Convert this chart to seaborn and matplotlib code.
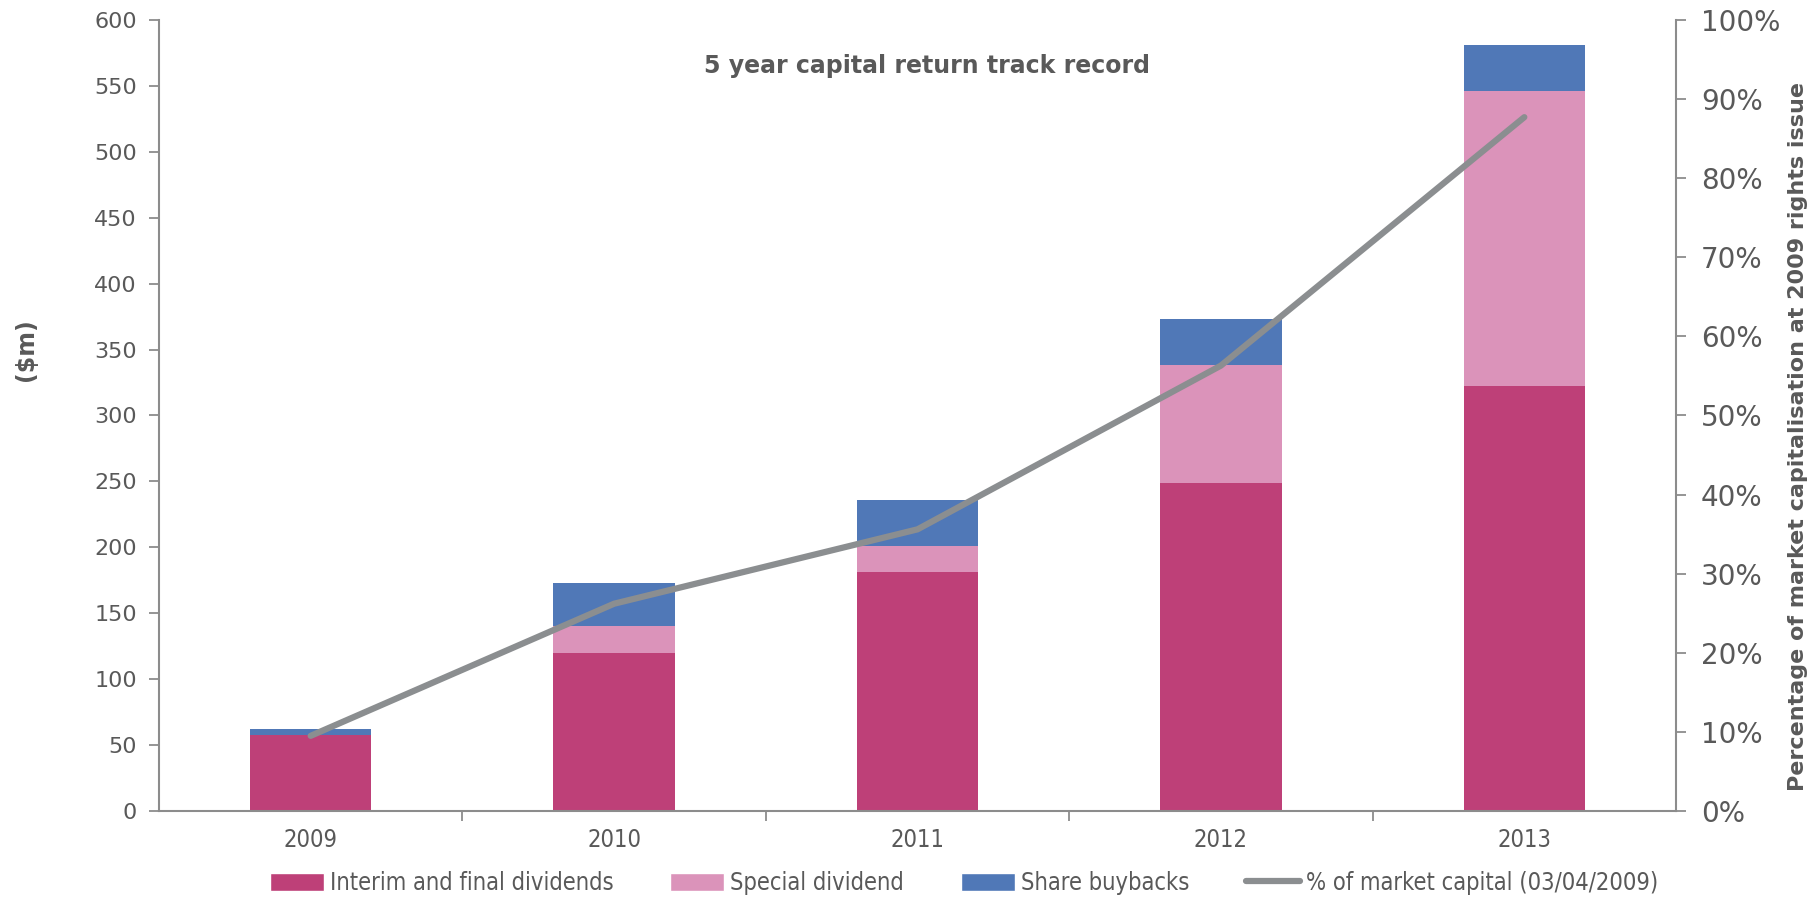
import numpy as np
import pandas as pd
import matplotlib
matplotlib.use("Agg")
import matplotlib.pyplot as plt
import seaborn as sns
from matplotlib.ticker import PercentFormatter, MultipleLocator, FixedLocator
from matplotlib.patches import Patch
from matplotlib.lines import Line2D

# data
years = ["2009", "2010", "2011", "2012", "2013"]
interim_final = [58, 120, 181, 249, 322]
special_div = [0, 20, 20, 89, 224]
buybacks = [4, 33, 35, 35, 35]
pct_market_cap = [9.5, 26.2, 35.6, 56.3, 87.7]

C_INTERIM = "#BE4078"
C_SPECIAL = "#DB93BA"
C_BUYBACK = "#5078B7"
C_LINE = "#8B8E90"
C_AXIS = "#8C8C8C"
C_TEXT = "#595959"

sns.set_theme(style="white")
plt.rcParams["font.family"] = ["DejaVu Sans"]

df = pd.DataFrame({"year": years, "interim": interim_final,
                   "special": special_div, "buyback": buybacks})
df["lvl2"] = df["interim"] + df["special"]
df["lvl3"] = df["lvl2"] + df["buyback"]

fig = plt.figure(figsize=(18.19, 8.99), dpi=100)
ax = fig.add_axes([0.0874, 0.0979, 0.834, 0.88])

# stacked bars drawn as cumulative totals, back to front
for col, c in [("lvl3", C_BUYBACK), ("lvl2", C_SPECIAL), ("interim", C_INTERIM)]:
    sns.barplot(data=df, x="year", y=col, color=c, width=0.4,
                saturation=1, linewidth=0, ax=ax)

ax.set_xlim(-0.5, len(years) - 0.5)
ax.set_ylim(0, 600)
ax.yaxis.set_major_locator(MultipleLocator(50))
ax.set_xlabel("")
ax.set_ylabel("($m)", fontsize=17, fontweight="bold", color=C_TEXT)
ax.yaxis.set_label_coords(-0.080, 0.583)

for side in ["top", "right"]:
    ax.spines[side].set_visible(False)
for side in ["left", "bottom"]:
    ax.spines[side].set_color(C_AXIS)
    ax.spines[side].set_linewidth(1.5)

ax.tick_params(axis="y", which="major", direction="out", length=7, width=1.3,
               color=C_AXIS, labelsize=16, labelcolor=C_TEXT, left=True, pad=9)
ax.tick_params(axis="x", which="major", length=0, labelsize=17,
               labelcolor=C_TEXT, pad=12)
ax.xaxis.set_minor_locator(FixedLocator(np.arange(0.5, len(years) - 1, 1.0)))
ax.tick_params(axis="x", which="minor", direction="out", length=7, width=1.3,
               color=C_AXIS, bottom=True)
for lab in ax.get_xticklabels():
    lab.set_fontstretch("condensed")

ax.text(0.506, 0.942, "5 year capital return track record", transform=ax.transAxes,
        ha="center", va="center", fontsize=17, fontweight="bold", color=C_TEXT)

# secondary axis with % of market cap
ax2 = ax.twinx()
sns.lineplot(x=np.arange(len(years)), y=pct_market_cap, color=C_LINE,
             linewidth=4.5, ax=ax2, solid_capstyle="round")
ax2.set_ylim(0, 100)
ax2.yaxis.set_major_locator(MultipleLocator(10))
ax2.yaxis.set_major_formatter(PercentFormatter(decimals=0))
ax2.set_ylabel("Percentage of market capitalisation at 2009 rights issue",
               fontsize=16, fontweight="bold", color=C_TEXT)
ax2.yaxis.set_label_coords(1.074, 0.473)
for side in ["top", "left", "bottom"]:
    ax2.spines[side].set_visible(False)
ax2.spines["right"].set_color(C_AXIS)
ax2.spines["right"].set_linewidth(1.5)
ax2.tick_params(axis="y", direction="out", length=7, width=1.3, color=C_AXIS,
                labelsize=20, labelcolor=C_TEXT, right=True, pad=11)
ax2.grid(False)
ax.grid(False)

handles = [Patch(facecolor=C_INTERIM), Patch(facecolor=C_SPECIAL),
           Patch(facecolor=C_BUYBACK),
           Line2D([0], [0], color=C_LINE, linewidth=4.5, solid_capstyle="round")]
labels = ["Interim and final dividends", "Special dividend", "Share buybacks",
          "% of market capital (03/04/2009)"]
leg = fig.legend(handles, labels, loc="center", bbox_to_anchor=(0.530, 0.018),
                 ncol=4, frameon=False, handlelength=2.3, handleheight=0.8,
                 handletextpad=0.25, columnspacing=2.4,
                 prop={"family": "DejaVu Sans", "stretch": "condensed", "size": 17})
for t in leg.get_texts():
    t.set_color(C_TEXT)

fig.savefig("out.png", dpi=100)
